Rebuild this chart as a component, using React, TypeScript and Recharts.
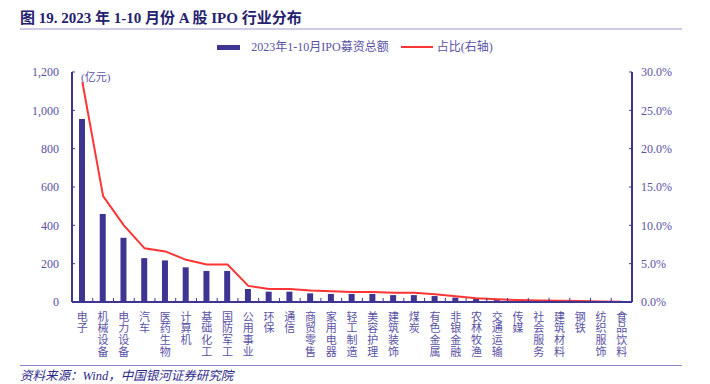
import React from "react";
import { ComposedChart, Bar, Line, XAxis, YAxis, Legend, Label } from "recharts";

const industries = [
  "电子", "机械设备", "电力设备", "汽车", "医药生物", "计算机", "基础化工", "国防军工",
  "公用事业", "环保", "通信", "商贸零售", "家用电器", "轻工制造", "美容护理", "建筑装饰",
  "煤炭", "有色金属", "非银金融", "农林牧渔", "交通运输", "传媒", "社会服务", "建筑材料",
  "钢铁", "纺织服饰", "食品饮料",
];

// 2023年1-10月IPO募资总额（亿元）
const ipoAmount = [
  955, 459, 335, 229, 217, 181, 162, 162, 68, 54, 54, 45, 42, 42, 42, 36,
  36, 31, 23, 17, 10, 7, 6, 5, 4, 3, 1,
];

// 占比（%，右轴）
const share = [
  28.7, 13.8, 10.0, 7.0, 6.6, 5.5, 4.9, 4.9, 2.1, 1.7, 1.7, 1.5, 1.4, 1.3, 1.3, 1.2,
  1.2, 1.0, 0.75, 0.5, 0.35, 0.25, 0.2, 0.15, 0.12, 0.08, 0.03,
];

const leftTicks = [0, 200, 400, 600, 800, 1000, 1200];
const rightTicks = [0, 5, 10, 15, 20, 25, 30];

const data = industries.map((name, i) => ({
  name,
  amount: ipoAmount[i],
  share: share[i],
}));

const NAVY = "#3D3591";
const TEXT = "#5A52A6";
const RED = "#FF3535";
const FONT = "'Liberation Serif', 'Noto Sans CJK SC', serif";

const W = 710;
const H = 384;
const LEFT_W = 72;
const RIGHT_W = 78;
const BAND = (W - LEFT_W - RIGHT_W) / industries.length;

// vertical (top-to-bottom) category label + boundary tick
const VerticalTick = (props: any) => {
  const { x, y, payload } = props;
  return (
    <g>
      <line x1={x + BAND / 2} x2={x + BAND / 2} y1={y - 4} y2={y} stroke={NAVY} strokeWidth={1} />
      <text
        x={x}
        y={y + 9}
        fill={TEXT}
        fontSize={11}
        fontFamily="'Noto Sans CJK SC', sans-serif"
        style={{ writingMode: "vertical-rl", letterSpacing: "0.7px" }}
      >
        {payload.value}
      </text>
    </g>
  );
};

const LegendContent = () => (
  <div
    style={{
      display: "flex",
      justifyContent: "center",
      alignItems: "center",
      fontFamily: FONT,
      fontSize: 12,
      lineHeight: "14px",
      color: TEXT,
      whiteSpace: "nowrap",
    }}
  >
    <span style={{ display: "inline-block", width: 23, height: 5, background: NAVY, marginRight: 11 }} />
    <span>2023年1-10月IPO募资总额</span>
    <span style={{ display: "inline-block", width: 32, height: 2, background: RED, marginLeft: 12, marginRight: 4 }} />
    <span>占比(右轴)</span>
  </div>
);

const App = () => {
  return (
    <div style={{ position: "absolute", left: 0, top: 0, width: W, height: H, background: "#fff", overflow: "hidden" }}>
      <div
        style={{
          position: "absolute",
          left: 20,
          top: 10,
          fontFamily: FONT,
          fontWeight: "bold",
          fontSize: 15,
          lineHeight: "17px",
          color: "#24216E",
          whiteSpace: "nowrap",
        }}
      >
        图 19. 2023 年 1-10 月份 A 股 IPO 行业分布
      </div>
      <div style={{ position: "absolute", left: 20, top: 28, width: 662, height: 2, background: "#CFCBE6" }} />

      <div style={{ position: "absolute", left: 0, top: 0 }}>
        <ComposedChart
          width={W}
          height={H}
          data={data}
          margin={{ top: 72, right: 0, bottom: 0, left: 0 }}
          barCategoryGap={0}
        >
          <XAxis
            dataKey="name"
            interval={0}
            axisLine={{ stroke: NAVY, strokeWidth: 2 }}
            tickLine={false}
            tickSize={0}
            tickMargin={0}
            height={82}
            tick={<VerticalTick />}
          />
          <YAxis
            yAxisId="left"
            width={LEFT_W}
            domain={[0, 1200]}
            ticks={leftTicks}
            interval={0}
            tickFormatter={(v: number) => v.toLocaleString("en-US")}
            axisLine={{ stroke: NAVY, strokeWidth: 2 }}
            tickLine={{ stroke: NAVY }}
            tickSize={-3}
            tickMargin={16}
            tick={{ fill: TEXT, fontSize: 12, fontFamily: FONT }}
          >
            <Label
              content={(p: any) => {
                const vb = p.viewBox;
                return (
                  <text
                    x={vb.x + vb.width + 9}
                    y={vb.y + 9}
                    fill={TEXT}
                    fontSize={11}
                    fontFamily={FONT}
                  >
                    (亿元)
                  </text>
                );
              }}
            />
          </YAxis>
          <YAxis
            yAxisId="right"
            orientation="right"
            width={RIGHT_W}
            domain={[0, 30]}
            ticks={rightTicks}
            interval={0}
            tickFormatter={(v: number) => `${v.toFixed(1)}%`}
            axisLine={{ stroke: NAVY, strokeWidth: 2 }}
            tickLine={{ stroke: NAVY }}
            tickSize={-3}
            tickMargin={12}
            tick={{ fill: TEXT, fontSize: 12, fontFamily: FONT }}
          />
          <Legend
            layout="horizontal"
            verticalAlign="middle"
            wrapperStyle={{ top: 40, left: 0, width: W }}
            content={<LegendContent />}
          />
          <Bar
            yAxisId="left"
            dataKey="amount"
            name="2023年1-10月IPO募资总额"
            fill={NAVY}
            barSize={6}
            isAnimationActive={false}
          />
          <Line
            yAxisId="right"
            dataKey="share"
            name="占比(右轴)"
            type="linear"
            stroke={RED}
            strokeWidth={2}
            dot={false}
            activeDot={false}
            isAnimationActive={false}
          />
        </ComposedChart>
      </div>

      <div style={{ position: "absolute", left: 20, top: 365, width: 662, height: 1, background: "#8C86C8" }} />
      <div
        style={{
          position: "absolute",
          left: 20,
          top: 369,
          fontFamily: FONT,
          fontStyle: "italic",
          fontSize: 12.5,
          lineHeight: "14px",
          color: "#2E2A8A",
          whiteSpace: "nowrap",
        }}
      >
        资料来源：Wind，中国银河证券研究院
      </div>
    </div>
  );
};

export default App;
